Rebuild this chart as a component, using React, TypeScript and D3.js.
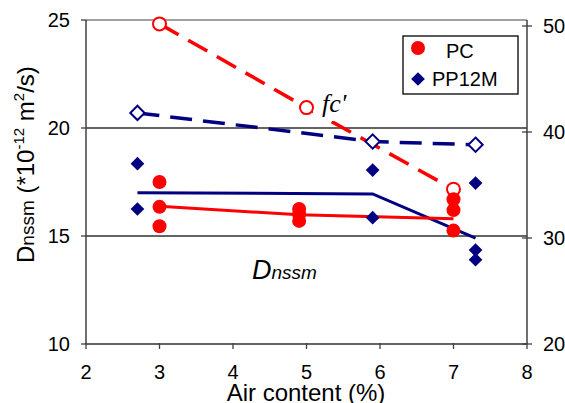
import React from "react";
import * as d3 from "d3";

// PC: air content per batch, measured Dnssm values, mean line, fc'
const pcAir = [3, 4.9, 7];
const pcDnssm = [
  [17.5, 16.35, 15.45],
  [16.25, 16.0, 15.7],
  [16.7, 16.2, 15.25],
];
const pcMean = [16.38, 15.98, 15.8];
const pcFcAir = [3, 5, 7];
const pcFc = [50.2, 42.3, 34.6];

// PP12M
const ppAir = [2.7, 5.9, 7.3];
const ppDnssm = [
  [18.35, 16.25],
  [18.05, 15.85],
  [17.45, 14.35, 13.9],
];
const ppMean = [17.0, 16.95, 14.9];
const ppFc = [41.8, 39.1, 38.8];

const xTicks = [2, 3, 4, 5, 6, 7, 8];
const yTicks = [10, 15, 20, 25];
const y2Ticks = [20, 30, 40, 50];

const RED = "#ff0000";
const NAVY = "#000080";
const AXIS = "#404040";
const FONT = "'Liberation Sans', Arial, sans-serif";

type Pt = [number, number];

const App = () => {
  const width = 565;
  const height = 403;

  const x = d3.scaleLinear().domain([2, 8]).range([86, 527]);
  const y = d3.scaleLinear().domain([10, 25]).range([344, 20]);
  const y2 = d3.scaleLinear().domain([20, 50]).range([344, 26]);

  const line = d3.line<Pt>();

  const pcMeanPts: Pt[] = pcAir.map((a, i) => [x(a), y(pcMean[i])]);
  const ppMeanPts: Pt[] = ppAir.map((a, i) => [x(a), y(ppMean[i])]);
  const pcFcPts: Pt[] = pcFcAir.map((a, i) => [x(a), y2(pcFc[i])]);
  const ppFcPts: Pt[] = ppAir.map((a, i) => [x(a), y2(ppFc[i])]);

  const diamond = d3.symbol().type(d3.symbolDiamond2);

  return (
    <svg
      width={width}
      height={height}
      style={{ position: "absolute", left: 0, top: 0, background: "#fff" }}
      fontFamily={FONT}
    >
      {/* gridlines */}
      {yTicks.map((t) => (
        <line
          key={"g" + t}
          x1={x(2)}
          x2={x(8)}
          y1={y(t)}
          y2={y(t)}
          stroke={t === 25 ? "#808080" : "#303030"}
          strokeWidth={1.3}
        />
      ))}

      {/* axes */}
      <line x1={x(2)} x2={x(2)} y1={y(25)} y2={y(10)} stroke={AXIS} strokeWidth={1.5} />
      <line x1={x(8)} x2={x(8)} y1={y(25)} y2={y(10)} stroke={AXIS} strokeWidth={1.5} />
      {yTicks.map((t) => (
        <g key={"yt" + t}>
          <line x1={x(2) - 5} x2={x(2)} y1={y(t)} y2={y(t)} stroke={AXIS} strokeWidth={1.3} />
          <text x={x(2) - 16} y={y(t) + 7} fontSize={20} textAnchor="end" fill="#000">
            {t}
          </text>
        </g>
      ))}
      {y2Ticks.map((t) => (
        <g key={"y2t" + t}>
          <line x1={x(8) - 5} x2={x(8) + 5} y1={y2(t)} y2={y2(t)} stroke={AXIS} strokeWidth={1.3} />
          <text x={x(8) + 16} y={y2(t) + 7} fontSize={20} fill="#000">
            {t}
          </text>
        </g>
      ))}
      {xTicks.map((t) => (
        <g key={"xt" + t}>
          <line x1={x(t)} x2={x(t)} y1={y(10) - 1} y2={y(10) + 5} stroke={AXIS} strokeWidth={1.3} />
          <text x={x(t)} y={379} fontSize={20} textAnchor="middle" fill="#000">
            {t}
          </text>
        </g>
      ))}

      {/* axis titles */}
      <text x={306} y={401} fontSize={24} textAnchor="middle" fill="#000">
        Air content (%)
      </text>
      <text transform="translate(34,263) rotate(-90)" fontSize={24} fill="#000">
        <tspan>D</tspan>
        <tspan fontSize={19}>nssm</tspan>
        <tspan> (*10</tspan>
        <tspan fontSize={15} dy={-10}>-12</tspan>
        <tspan dy={10}> m</tspan>
        <tspan fontSize={15} dy={-10}>2</tspan>
        <tspan dy={10}>/s)</tspan>
      </text>

      {/* fc' dashed lines */}
      <path d={line(ppFcPts) ?? ""} fill="none" stroke={NAVY} strokeWidth={3.5} strokeDasharray="22 11" />
      <path d={line(pcFcPts) ?? ""} fill="none" stroke={RED} strokeWidth={3.5} strokeDasharray="22 11" />

      {/* fc' label with white box */}
      <rect x={313} y={90} width={42} height={31} fill="#fff" />
      <text
        x={322}
        y={112}
        fontSize={26}
        fontStyle="italic"
        fontFamily="Liberation Serif"
        fill="#000"
      >
        fc'
      </text>

      {/* mean lines */}
      <path d={line(ppMeanPts) ?? ""} fill="none" stroke={NAVY} strokeWidth={3} />
      <path d={line(pcMeanPts) ?? ""} fill="none" stroke={RED} strokeWidth={3} />

      {/* fc' markers */}
      {ppFcPts.map((p, i) => (
        <path
          key={"pf" + i}
          d={diamond.size(130)() ?? ""}
          transform={`translate(${p[0]},${p[1]})`}
          fill="#fff"
          stroke={NAVY}
          strokeWidth={2}
        />
      ))}
      {pcFcPts.map((p, i) => (
        <circle key={"cf" + i} cx={p[0]} cy={p[1]} r={6.5} fill="#fff" stroke={RED} strokeWidth={2} />
      ))}

      {/* measured points */}
      {ppAir.map((a, i) =>
        ppDnssm[i].map((v, j) => (
          <path
            key={"pp" + i + "-" + j}
            d={diamond.size(120)() ?? ""}
            transform={`translate(${x(a)},${y(v)})`}
            fill={NAVY}
          />
        ))
      )}
      {pcAir.map((a, i) =>
        pcDnssm[i].map((v, j) => (
          <circle key={"pc" + i + "-" + j} cx={x(a)} cy={y(v)} r={7} fill={RED} />
        ))
      )}

      {/* Dnssm label */}
      <text x={252} y={279} fontSize={27} fontStyle="italic" fill="#000">
        D<tspan fontSize={19}>nssm</tspan>
      </text>

      {/* legend */}
      <rect x={403} y={36} width={115} height={58} fill="#fff" stroke="#000" strokeWidth={1.3} />
      <circle cx={418} cy={48} r={7} fill={RED} />
      <text x={446} y={58} fontSize={20} fill="#000">
        PC
      </text>
      <path d={diamond.size(120)() ?? ""} transform="translate(418,79)" fill={NAVY} />
      <text x={432} y={86} fontSize={20} fill="#000">
        PP12M
      </text>
    </svg>
  );
};

export default App;
